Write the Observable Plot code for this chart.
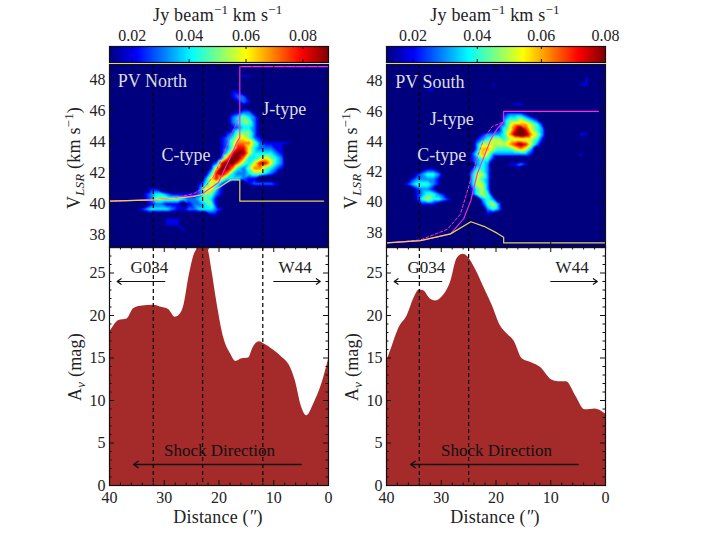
<!DOCTYPE html>
<html>
<head>
  <meta charset="utf-8">
  <!-- load d3 and plot -->
  <script src="https://cdn.jsdelivr.net/npm/d3@7"></script>
  <script src="https://cdn.jsdelivr.net/npm/@observablehq/plot@0.6"></script>
  <style>
    html, body { margin: 0; padding: 0; background: #fff; width: 711px; height: 534px; overflow: hidden; }
    svg { position: absolute; overflow: visible; background: transparent; }
    .lab { position: absolute; font: 18px "Liberation Serif", serif; letter-spacing: 0.2px; color: #222; white-space: nowrap; transform: translate(-50%, -50%); }
    .rot { transform: translate(-50%, -50%) rotate(-90deg); }
    .lab sup, .lab sub { font-size: 13px; line-height: 0; }
  </style>
</head>
<body>
  <script>
    // jet colormap stops
    const jetColors = ["#00007f", "#0000ff", "#007fff", "#00ffff", "#7fff7f", "#ffff00", "#ff7f00", "#ff0000", "#7f0000"];

    // intensity levels: digit = level in 0.01 Jy/beam km/s
    // each string starts at 40" and runs towards 0", one column per arcsec, missing end = 0
    const northTop = 48.9;
    const northRows = [
      "", "",
      "00000000000000000000000022",
      "",
      "0000000000011",
      "000000000000000000000022",
      "0000000000000000000000233100",
      "00000000000000000000000232",
      "0000000000000000000000001",
      "00000000000000000000001233100",
      "0000000000000000000001345431",
      "0000010000000000000001345531",
      "0000000000000000000000234431",
      "0000000000000000000002355531",
      "00000000000000000000234665320",
      "0000000000000000000023577753222221",
      "00000000000000000000235886433322",
      "000000000000000000002489964444320",
      "000000000000000000003799744565430",
      "000000000000000000138997546886430",
      "00000000000000000026997435775432",
      "0000000000000000014897433455432",
      "00000000000000000368644432200",
      "0000000000000000246532000233332100",
      "0000000220000000366420",
      "0000002344322222355320",
      "000000235555543345420",
      "000000023322202334520",
      "000002344443223344432",
      "00000001000000000022",
      "00000000002221",
      "000000000022200000000000001",
      "00000000000002",
      "", "", ""
    ];
    const southTop = 49.1;
    const southRows = [
      "", "", "",
      "000000000000000000000000000000001000200",
      "00000000000000000002000000000000000220",
      "000000022",
      "",
      "0001",
      "000000000000000000000012210",
      "",
      "00000000000000000000023332100000000000001",
      "0000000000000000000003445432",
      "000000000000000000002356665420",
      "00000000000000000001245797543",
      "00000000000000000233346898653000000220",
      "00000000000000002345545555542000000100",
      "00000000000000003555556787531",
      "000000000000000036654445653",
      "000000000000000246533333332000000002",
      "00000000000000023442",
      "000000000000000034300022320",
      "00000012210000024430000100",
      "00000234431000035530",
      "00002333320000035430",
      "00023444320000035530",
      "00000233200000024530",
      "00000234432000024541",
      "00000245443200000343",
      "00000022210000000245300",
      "00000000000000000034310",
      "00000000000000000121000000000000001",
      "", "", "",
      "0000000000000000010",
      "00000000000000000100",
      ""
    ];

    // shock model curves, distance in arcsec and velocity in km/s
    const northSolidX = [40, 31.9, 27.7, 23.4, 22.8, 20.1, 17.9, 16.7, 16.2, 16.2, 15.5, 0];
    const northSolidY = [40.19, 40.27, 40.38, 40.6, 40.72, 41.39, 43.06, 44.0, 44.3, 48.86, 48.86, 48.86];
    const northDashX = [40, 31.9, 28.3, 24.6, 22.8, 21, 19.1, 17.9, 16.7, 16.2];
    const northDashY = [40.19, 40.27, 40.38, 40.68, 41.03, 41.78, 43.28, 44.35, 45.3, 45.64];
    const northShockX = [40, 31.9, 27.7, 24.6, 22.1, 19.7, 17.9, 16.2, 16.2, 0.9];
    const northShockY = [40.19, 40.27, 40.38, 40.49, 40.7, 41.13, 41.56, 41.56, 40.19, 40.19];

    const southSolidX = [40, 33.8, 28.3, 25.9, 24.6, 23.4, 22.2, 21, 19.8, 18.6, 18.6, 1.3];
    const southSolidY = [37.3, 37.45, 37.9, 38.9, 40.1, 41.9, 43, 44.1, 44.85, 45.3, 46, 46];
    const southDashX = [40, 33.8, 28.9, 26.5, 25, 23.4, 22.2, 20.7, 18.6];
    const southDashY = [37.3, 37.5, 38.2, 39.2, 41, 43, 44.2, 45, 45.3];
    const southShockX = [40, 33.8, 28.3, 24.6, 22.2, 19.8, 18.6, 18.6, 0];
    const southShockY = [37.3, 37.45, 37.9, 38.7, 38.4, 37.95, 37.67, 37.3, 37.3];

    // extinction profiles
    const northAvX = [40, 39.2, 38.3, 36.8, 35.6, 34.3, 32, 30.7, 29.2, 28, 27.3, 26.4, 25.5, 24.6, 23.7, 23, 22.1, 21.3, 20.4, 19.1, 17.9, 16.9, 15.8, 14.6, 13.7, 12.6, 11.9, 10, 8.5, 7.2, 6.1, 4.9, 4, 2.7, 1.2, 0];
    const northAvY = [18, 18.8, 19.4, 19.6, 20.8, 21.1, 21.2, 21, 20.7, 19.8, 20, 21.2, 24.5, 27, 28, 28.4, 28, 25.3, 21.6, 17.3, 15.5, 14.6, 14.9, 15, 16.3, 16.9, 16.7, 15.9, 15.1, 14.2, 12.4, 9.2, 8.2, 9.6, 12, 14.8];
    const southAvX = [40, 39, 37.75, 36.2, 35, 34, 33.2, 32.1, 31.1, 29.8, 28.3, 27.1, 26, 25, 23.8, 22.2, 20.7, 19.2, 17.9, 16.7, 15.2, 13.4, 11.9, 9.8, 8.6, 7.1, 5.5, 3.7, 1.9, 0];
    const southAvY = [14.5, 16.3, 18.5, 20, 22, 23, 22.9, 22, 21.7, 22.2, 23.9, 26.7, 27.2, 26.8, 25.5, 23.3, 21.2, 18.8, 17.8, 17, 14.9, 14.4, 13.9, 12.4, 12.2, 12.2, 10.6, 8.9, 9, 8.4];

    // axis ticks
    const distanceTicks = [40, 30, 20, 10, 0];
    const distanceMinor = [38, 36, 34, 32, 28, 26, 24, 22, 18, 16, 14, 12, 8, 6, 4, 2];
    const velocityTicks = [38, 40, 42, 44, 46, 48];
    const velocityMinor = [37.5, 38.5, 39, 39.5, 40.5, 41, 41.5, 42.5, 43, 43.5, 44.5, 45, 45.5, 46.5, 47, 47.5, 48.5];
    const avTicks = [0, 5, 10, 15, 20, 25];
    const avMinor = [1, 2, 3, 4, 6, 7, 8, 9, 11, 12, 13, 14, 16, 17, 18, 19, 21, 22, 23, 24, 26, 27];
    const barTicks = [0.02, 0.04, 0.06, 0.08];

    const font = {fontFamily: "'Liberation Serif', serif", fontSize: "16px", background: "transparent", color: "#222"};
    const frameW = 219, pad = 60;

    // inward ticks on all four sides, plot axes can't do this directly
    function boxTicks(xs, ys, w, h, len) {
      const marks = [];
      if (xs) marks.push(
        Plot.tickX(xs, {x: d => d, insetTop: h - len, stroke: "#111"}),
        Plot.tickX(xs, {x: d => d, insetBottom: h - len, stroke: "#111"}));
      if (ys) marks.push(
        Plot.tickY(ys, {y: d => d, insetRight: w - len, stroke: "#111"}),
        Plot.tickY(ys, {y: d => d, insetLeft: w - len, stroke: "#111"}));
      return marks;
    }

    function place(svg, left, top) {
      svg.style.left = left + "px";
      svg.style.top = top + "px";
      document.body.appendChild(svg);
    }

    function label(html, x, y, rotated) {
      const div = document.createElement("div");
      div.className = rotated ? "lab rot" : "lab";
      div.style.left = x + "px";
      div.style.top = y + "px";
      div.innerHTML = html;
      document.body.appendChild(div);
    }

    function jetScale(lo, hi) {
      return {type: "linear", domain: jetColors.map((c, i) => lo + (hi - lo) * i / 8), range: jetColors, interpolate: "rgb", clamp: true};
    }

    function colorBar(left, lo, hi) {
      place(Plot.plot({
        width: frameW + pad + 20, height: 16 + 30, marginLeft: pad, marginRight: 20, marginTop: 29, marginBottom: 1,
        style: font,
        x: {domain: [lo, hi], axis: null},
        y: {domain: [0, 1], axis: null},
        color: jetScale(lo, hi),
        marks: [
          Plot.raster({x1: lo, x2: hi, y1: 0, y2: 1, pixelSize: 1, fill: (x, y) => x}),
          ...boxTicks(barTicks, null, frameW, 16, 3),
          Plot.axisX(barTicks, {anchor: "top", tickSize: 0, tickPadding: 6, label: null, tickFormat: d => d.toFixed(2), fill: "#222"}),
          Plot.frame({stroke: "#111", strokeWidth: 1.2})
        ]
      }), left - pad, 45.5 - 29);
    }

    function pvPanel(opts) {
      // spread the level strings on a grid of channels
      const points = [];
      opts.rows.forEach((row, r) => {
        const levels = row.padEnd(40, "0");
        for (let c = 0; c < 40; c++) {
          points.push({d: 39.5 - c, v: opts.top - 0.33 * r, level: +levels[c] * 0.01});
        }
      });
      place(Plot.plot({
        width: frameW + pad + 20, height: 183 + 2, marginLeft: pad, marginRight: 20, marginTop: 1, marginBottom: 1,
        style: font,
        x: {domain: [40, 0], axis: null},
        y: {domain: opts.vDomain, axis: null},
        color: jetScale(opts.lo, opts.hi),
        marks: [
          Plot.raster(points, {x: "d", y: "v", fill: "level", interpolate: "barycentric", pixelSize: 1,
            x1: 40, x2: 0, y1: opts.vDomain[0], y2: opts.vDomain[1]}),
          Plot.ruleX(opts.dashes, {x: d => d, stroke: "#000", strokeDasharray: "4,3", strokeWidth: 1.2}),
          Plot.line(opts.dashX, {x: d => d, y: (d, i) => opts.dashY[i], stroke: "#ff2bd6", strokeDasharray: "3,2", strokeWidth: 1}),
          Plot.line(opts.solidX, {x: d => d, y: (d, i) => opts.solidY[i], stroke: "#ff2bd6", strokeWidth: 1.1}),
          Plot.line(opts.shockX, {x: d => d, y: (d, i) => opts.shockY[i], stroke: "#e8d44a", strokeWidth: 1.2}),
          Plot.text(opts.notes, {x: "d", y: "v", text: "t", textAnchor: "start", fill: "#ddd", fontSize: 18}),
          ...boxTicks(distanceTicks, velocityTicks, frameW, 183, 5),
          ...boxTicks(distanceMinor, velocityMinor, frameW, 183, 2.5),
          Plot.axisY(velocityTicks, {anchor: "left", tickSize: 0, tickPadding: 4, label: null, fill: "#222"}),
          Plot.frame({stroke: "#111", strokeWidth: 1.2})
        ]
      }), opts.left - pad, 63);
    }

    function avPanel(opts) {
      const rows = opts.avX.map((d, i) => ({d, a: opts.avY[i]}));
      place(Plot.plot({
        width: frameW + pad + 20, height: 238 + 40, marginLeft: pad, marginRight: 20, marginTop: 0, marginBottom: 40,
        style: font,
        x: {domain: [40, 0], axis: null},
        y: {domain: [0, 28], axis: null},
        marks: [
          Plot.areaY(rows, {x: "d", y: "a", fill: "#a52a2a", curve: "monotone-x", clip: true}),
          Plot.ruleX(opts.dashes, {x: d => d, stroke: "#000", strokeDasharray: "4,3", strokeWidth: 1.2}),
          Plot.arrow([[29.9, 38.6], [10, 1.5]], {x1: d => d[0], x2: d => d[1], y1: 24, y2: 24, bend: 0, headLength: 6, headAngle: 70, stroke: "#111", strokeWidth: 1.2}),
          Plot.arrow([[5, 35.6]], {x1: d => d[0], x2: d => d[1], y1: 2.47, y2: 2.47, bend: 0, headLength: 6, headAngle: 70, stroke: "#111", strokeWidth: 1.4}),
          Plot.text([[32.7, "G034"], [6.1, "W44"]], {x: d => d[0], y: 25.6, text: d => d[1], fill: "#222", fontSize: 17}),
          Plot.text([[19.9, "Shock Direction"]], {x: d => d[0], y: 4.1, text: d => d[1], fill: "#111", fontSize: 17}),
          ...boxTicks(distanceTicks, avTicks, frameW, 238, 5),
          ...boxTicks(distanceMinor, avMinor, frameW, 238, 2.5),
          Plot.axisX(distanceTicks, {anchor: "bottom", tickSize: 0, tickPadding: 6, label: null, fill: "#222"}),
          Plot.axisY(avTicks, {anchor: "left", tickSize: 0, tickPadding: 4, label: null, fill: "#222"}),
          Plot.frame({stroke: "#111", strokeWidth: 1.2})
        ]
      }), opts.left - pad, 247);
    }

    // left column
    colorBar(109, 0.012, 0.089);
    pvPanel({
      left: 109, rows: northRows, top: northTop, vDomain: [37.2, 49], lo: 0.012, hi: 0.089, dashes: [32, 23, 12],
      solidX: northSolidX, solidY: northSolidY, dashX: northDashX, dashY: northDashY, shockX: northShockX, shockY: northShockY,
      notes: [{d: 38.5, v: 47.9, t: "PV North"}, {d: 12.1, v: 46.1, t: "J-type"}, {d: 30.5, v: 43.16, t: "C-type"}]
    });
    avPanel({left: 109, avX: northAvX, avY: northAvY, dashes: [32, 23, 12]});

    // right column
    colorBar(386, 0.0117, 0.08);
    pvPanel({
      left: 386, rows: southRows, top: southTop, vDomain: [37, 49.1], lo: 0.0117, hi: 0.08, dashes: [34, 25],
      solidX: southSolidX, solidY: southSolidY, dashX: southDashX, dashY: southDashY, shockX: southShockX, shockY: southShockY,
      notes: [{d: 38.4, v: 47.93, t: "PV South"}, {d: 32.1, v: 45.5, t: "J-type"}, {d: 34.4, v: 43.08, t: "C-type"}]
    });
    avPanel({left: 386, avX: southAvX, avY: southAvY, dashes: [34, 25]});

    // axis titles with sub and superscripts
    label("Jy beam<sup>−1</sup> km s<sup>−1</sup>", 217.7, 15);
    label("Jy beam<sup>−1</sup> km s<sup>−1</sup>", 495, 15);
    label("V<sub><i>LSR</i></sub> (km s<sup>−1</sup>)", 74, 158, true);
    label("V<sub><i>LSR</i></sub> (km s<sup>−1</sup>)", 351, 158, true);
    label("A<sub><i>v</i></sub> (mag)", 75, 367, true);
    label("A<sub><i>v</i></sub> (mag)", 352, 367, true);
    label("Distance (<i>″</i>)", 218, 517);
    label("Distance (<i>″</i>)", 495, 517);
  </script>
</body>
</html>
